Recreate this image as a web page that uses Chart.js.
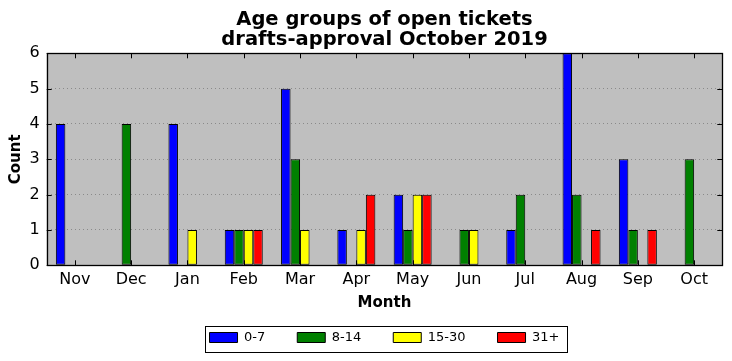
<!DOCTYPE html>
<html>
<head>
<meta charset="utf-8">
<script src="https://cdn.jsdelivr.net/npm/chart.js@4"></script>
<style>
  body { margin: 0; background: #fff; }
</style>
</head>
<body>
<canvas id="ticketChart" width="732" height="361"></canvas>
<script>
const months = ['Nov', 'Dec', 'Jan', 'Feb', 'Mar', 'Apr', 'May', 'Jun', 'Jul', 'Aug', 'Sep', 'Oct'];
const age0to7 = [4, 0, 4, 1, 5, 1, 2, 0, 1, 6, 3, 0];
const age8to14 = [0, 4, 0, 1, 3, 0, 1, 1, 2, 2, 1, 3];
const age15to30 = [0, 0, 1, 1, 1, 1, 2, 1, 0, 0, 0, 0];
const age31plus = [0, 0, 0, 1, 0, 2, 2, 0, 0, 1, 1, 0];
const countTicks = [0, 1, 2, 3, 4, 5, 6];

const FONT = 'DejaVu Sans';

// grey plot background, drawn before the grid
const plotBackground = {
    id: 'plotBackground',
    beforeDraw(chart) {
        const { ctx, chartArea: a } = chart;
        ctx.save();
        ctx.fillStyle = '#fff';
        ctx.fillRect(0, 0, chart.width, chart.height);
        ctx.fillStyle = '#bfbfbf';
        ctx.fillRect(a.left, a.top, a.right - a.left, a.bottom - a.top);
        ctx.restore();
    }
};

// black frame with inward ticks on all four sides
const axesFrame = {
    id: 'axesFrame',
    afterDatasetsDraw(chart) {
        const { ctx, chartArea: a, scales: { x, y } } = chart;
        const len = 5;
        ctx.save();
        ctx.strokeStyle = '#000';
        ctx.lineWidth = 1;
        ctx.beginPath();
        x.ticks.forEach((t, i) => {
            const px = Math.round(x.getPixelForTick(i)) + 0.5;
            ctx.moveTo(px, a.top); ctx.lineTo(px, a.top + len);
            ctx.moveTo(px, a.bottom); ctx.lineTo(px, a.bottom - len);
        });
        y.ticks.forEach((t, i) => {
            const py = Math.round(y.getPixelForTick(i)) + 0.5;
            ctx.moveTo(a.left, py); ctx.lineTo(a.left + len, py);
            ctx.moveTo(a.right, py); ctx.lineTo(a.right - len, py);
        });
        ctx.stroke();
        ctx.lineWidth = 1.3;
        ctx.strokeRect(Math.round(a.left) + 0.5, Math.round(a.top) + 0.5,
            Math.round(a.right - a.left) - 1, Math.round(a.bottom - a.top));
        ctx.restore();
    }
};

// matplotlib style box round the legend
const legendFrame = {
    id: 'legendFrame',
    afterDraw(chart) {
        const boxes = chart.legend.legendHitBoxes;
        if (!boxes || !boxes.length) return;
        const first = boxes[0];
        const last = boxes[boxes.length - 1];
        const center = first.top + first.height / 2;
        const left = Math.round(first.left - 5) + 0.5;
        const right = Math.round(last.left + last.width + 8) + 0.5;
        const top = Math.round(center - 12) + 0.5;
        const bottom = Math.round(center + 14) + 0.5;
        const ctx = chart.ctx;
        ctx.save();
        ctx.strokeStyle = '#000';
        ctx.lineWidth = 1;
        ctx.strokeRect(left, top, right - left, bottom - top);
        ctx.restore();
    }
};

const barStyle = { borderColor: '#000', borderWidth: 1, borderSkipped: false };

new Chart(document.getElementById('ticketChart').getContext('2d'), {
    type: 'bar',
    data: {
        labels: months,
        datasets: [
            { label: '0-7', data: age0to7, backgroundColor: '#0000ff', ...barStyle },
            { label: '8-14', data: age8to14, backgroundColor: '#008000', ...barStyle },
            { label: '15-30', data: age15to30, backgroundColor: '#ffff00', ...barStyle },
            { label: '31+', data: age31plus, backgroundColor: '#ff0000', ...barStyle }
        ]
    },
    options: {
        responsive: false,
        animation: false,
        devicePixelRatio: 1,
        categoryPercentage: 0.675,
        barPercentage: 1,
        layout: { padding: { left: 0, right: 9.7, top: 0, bottom: 7 } },
        plugins: {
            title: {
                display: true,
                fullSize: false,
                text: ['Age groups of open tickets', 'drafts-approval October 2019'],
                color: '#000',
                font: { family: FONT, size: 19.5, weight: 'bold', lineHeight: 20.5 / 19.5 },
                padding: { top: 9.5, bottom: 2.8 }
            },
            legend: {
                position: 'bottom',
                fullSize: false,
                labels: {
                    color: '#000',
                    font: { family: FONT, size: 13 },
                    boxWidth: 28,
                    boxHeight: 10,
                    padding: 32
                }
            },
            tooltip: { enabled: false }
        },
        scales: {
            x: {
                grid: { display: false, drawTicks: false },
                border: { display: false },
                ticks: { color: '#000', font: { family: FONT, size: 16 }, padding: 5 },
                title: {
                    display: true,
                    text: 'Month',
                    color: '#000',
                    font: { family: FONT, size: 15, weight: 'bold' },
                    padding: { top: 0, bottom: -13.5 }
                },
                afterFit(scale) { scale.height = 33.7; }
            },
            y: {
                min: 0,
                max: 6,
                afterBuildTicks(scale) { scale.ticks = countTicks.map(v => ({ value: v })); },
                grid: { color: '#8a8a8a', lineWidth: 1, drawTicks: false },
                border: { display: false, dash: [1, 3] },
                ticks: { color: '#000', font: { family: FONT, size: 16 }, padding: 7 },
                title: {
                    display: true,
                    text: 'Count',
                    color: '#000',
                    font: { family: FONT, size: 15, weight: 'bold' },
                    padding: { top: 7, bottom: 0 }
                },
                afterFit(scale) { scale.width = 46.7; }
            }
        }
    },
    plugins: [plotBackground, axesFrame, legendFrame]
});
</script>
</body>
</html>
